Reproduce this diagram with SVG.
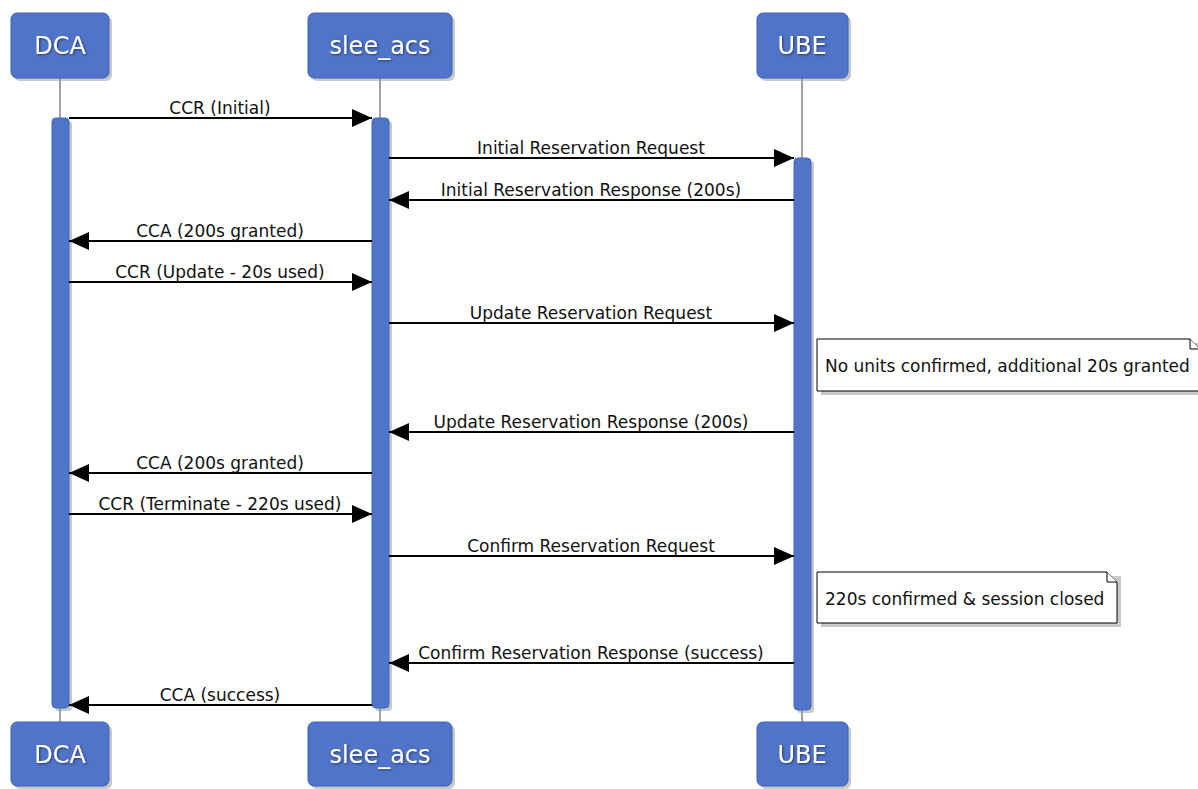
<svg xmlns="http://www.w3.org/2000/svg" width="1198" height="789" viewBox="0 0 1198 789">
<defs>
<style>
.box{fill:#4F74C8;stroke:#3F63B4;stroke-width:1}
.shadow{fill:#9a9a9a;opacity:0.55}
.plabel{font-family:"DejaVu Sans",sans-serif;font-size:24px;fill:#fff;text-anchor:middle;filter:url(#ts)}
.life{stroke:#8a8a8a;stroke-width:1.6;fill:none}
.act{fill:#4F74C8;stroke:#4466B8;stroke-width:1}
.msg{stroke:#000;stroke-width:2;fill:none}
.mlabel{font-family:"DejaVu Sans",sans-serif;font-size:17px;fill:#111;text-anchor:middle}
.note{fill:#fff;stroke:#000;stroke-width:1}
.nlabel{font-family:"DejaVu Sans",sans-serif;font-size:17px;fill:#111}
</style>
<filter id="ts" x="-20%" y="-20%" width="140%" height="140%">
<feDropShadow dx="1" dy="1" stdDeviation="0.8" flood-color="#203060" flood-opacity="0.9"/>
</filter>
<marker id="ah" viewBox="0 0 20 18" refX="20" refY="9" markerWidth="20" markerHeight="18" markerUnits="userSpaceOnUse" orient="auto">
<path d="M0,0 L20,9 L0,18 Z" fill="#000"/>
</marker>
</defs>
<rect width="1198" height="789" fill="#fff"/>

<g id="lifelines">
<line class="life" x1="60" y1="78" x2="60" y2="722"/>
<line class="life" x1="380" y1="78" x2="380" y2="722"/>
<line class="life" x1="802" y1="78" x2="802" y2="722"/>
</g>

<g id="activations">
<rect class="shadow" x="55" y="121" width="17" height="590" rx="4"/>
<rect class="act" x="52" y="118" width="17" height="590" rx="4"/>
<rect class="shadow" x="375" y="121" width="17" height="590" rx="4"/>
<rect class="act" x="372" y="118" width="17" height="590" rx="4"/>
<rect class="shadow" x="797" y="161" width="17" height="552" rx="4"/>
<rect class="act" x="794" y="158" width="17" height="552" rx="4"/>
</g>

<g id="DCA_top">
<rect class="shadow" x="14" y="16" width="98" height="65" rx="6"/>
<rect class="box" x="11" y="13" width="98" height="65" rx="6"/>
<text class="plabel" x="60" y="54">DCA</text>
</g>
<g id="slee_acs_top">
<rect class="shadow" x="311" y="16" width="144" height="65" rx="6"/>
<rect class="box" x="308" y="13" width="144" height="65" rx="6"/>
<text class="plabel" x="380" y="54">slee_acs</text>
</g>
<g id="UBE_top">
<rect class="shadow" x="760" y="16" width="91" height="65" rx="6"/>
<rect class="box" x="757" y="13" width="91" height="65" rx="6"/>
<text class="plabel" x="802" y="54">UBE</text>
</g>
<g id="DCA_bottom">
<rect class="shadow" x="14" y="725" width="98" height="64" rx="6"/>
<rect class="box" x="11" y="722" width="98" height="64" rx="6"/>
<text class="plabel" x="60" y="763">DCA</text>
</g>
<g id="slee_acs_bottom">
<rect class="shadow" x="311" y="725" width="144" height="64" rx="6"/>
<rect class="box" x="308" y="722" width="144" height="64" rx="6"/>
<text class="plabel" x="380" y="763">slee_acs</text>
</g>
<g id="UBE_bottom">
<rect class="shadow" x="760" y="725" width="91" height="64" rx="6"/>
<rect class="box" x="757" y="722" width="91" height="64" rx="6"/>
<text class="plabel" x="802" y="763">UBE</text>
</g>

<g id="connectors">
<line class="msg" x1="69" y1="118" x2="372" y2="118" marker-end="url(#ah)"/>
<text class="mlabel" x="220" y="114">CCR (Initial)</text>
<line class="msg" x1="389" y1="158" x2="794" y2="158" marker-end="url(#ah)"/>
<text class="mlabel" x="591" y="154">Initial Reservation Request</text>
<line class="msg" x1="794" y1="200" x2="389" y2="200" marker-end="url(#ah)"/>
<text class="mlabel" x="591" y="196">Initial Reservation Response (200s)</text>
<line class="msg" x1="372" y1="241" x2="69" y2="241" marker-end="url(#ah)"/>
<text class="mlabel" x="220" y="237">CCA (200s granted)</text>
<line class="msg" x1="69" y1="282" x2="372" y2="282" marker-end="url(#ah)"/>
<text class="mlabel" x="220" y="278">CCR (Update - 20s used)</text>
<line class="msg" x1="389" y1="323" x2="794" y2="323" marker-end="url(#ah)"/>
<text class="mlabel" x="591" y="319">Update Reservation Request</text>
<line class="msg" x1="794" y1="432" x2="389" y2="432" marker-end="url(#ah)"/>
<text class="mlabel" x="591" y="428">Update Reservation Response (200s)</text>
<line class="msg" x1="372" y1="473" x2="69" y2="473" marker-end="url(#ah)"/>
<text class="mlabel" x="220" y="469">CCA (200s granted)</text>
<line class="msg" x1="69" y1="514" x2="372" y2="514" marker-end="url(#ah)"/>
<text class="mlabel" x="220" y="510">CCR (Terminate - 220s used)</text>
<line class="msg" x1="389" y1="556" x2="794" y2="556" marker-end="url(#ah)"/>
<text class="mlabel" x="591" y="552">Confirm Reservation Request</text>
<line class="msg" x1="794" y1="663" x2="389" y2="663" marker-end="url(#ah)"/>
<text class="mlabel" x="591" y="659">Confirm Reservation Response (success)</text>
<line class="msg" x1="372" y1="705" x2="69" y2="705" marker-end="url(#ah)"/>
<text class="mlabel" x="220" y="701">CCA (success)</text>
</g>

<g id="note1">
<path class="shadow" d="M821,343 H1202 V395 H821 Z"/>
<path class="note" d="M817,339 H1190 L1200,349 V391 H817 Z"/>
<path class="note" d="M1190,339 V349 H1200" fill="none"/>
<text class="nlabel" x="825" y="372">No units confirmed, additional 20s granted</text>
</g>
<g id="note2">
<path class="shadow" d="M821,576 H1121 V627 H821 Z"/>
<path class="note" d="M817,572 H1107 L1117,582 V623 H817 Z"/>
<path class="note" d="M1107,572 V582 H1117" fill="none"/>
<text class="nlabel" x="825" y="605">220s confirmed &amp; session closed</text>
</g>
</svg>
